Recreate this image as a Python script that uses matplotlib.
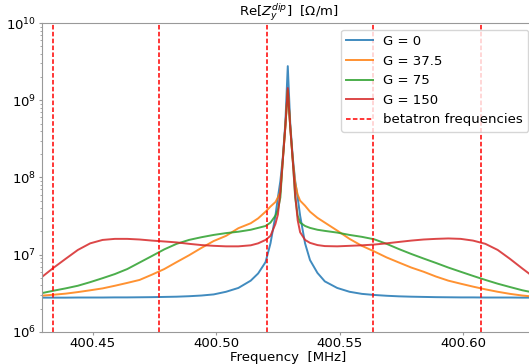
import matplotlib
matplotlib.use("Agg")
import matplotlib.pyplot as plt

# frequency grid [MHz], denser around the resonance
freq = [400.429, 400.434, 400.439, 400.444, 400.449, 400.454, 400.459, 400.464,
        400.469, 400.474, 400.479, 400.484, 400.489, 400.494, 400.499, 400.504,
        400.509, 400.514, 400.517, 400.520, 400.522, 400.524, 400.525, 400.526,
        400.527, 400.528, 400.529, 400.530, 400.531, 400.532, 400.533, 400.534,
        400.536, 400.538, 400.541, 400.544, 400.549, 400.554, 400.559, 400.564,
        400.569, 400.574, 400.579, 400.584, 400.589, 400.594, 400.599, 400.604,
        400.609, 400.614, 400.619, 400.624, 400.629]

z_g0 = [2.77e6, 2.77e6, 2.77e6, 2.78e6, 2.78e6, 2.78e6, 2.79e6, 2.79e6, 2.80e6,
        2.81e6, 2.83e6, 2.85e6, 2.89e6, 2.95e6, 3.05e6, 3.3e6, 3.7e6, 4.6e6,
        5.7e6, 8.0e6, 1.4e7, 3.2e7, 5.5e7, 9.0e7, 1.85e8, 5.0e8, 2.77e9,
        5.0e8, 1.85e8, 9.0e7, 5.5e7, 3.2e7, 1.4e7, 8.5e6, 5.8e6, 4.5e6, 3.7e6,
        3.3e6, 3.1e6, 3.0e6, 2.93e6, 2.88e6, 2.85e6, 2.83e6, 2.81e6, 2.80e6,
        2.79e6, 2.79e6, 2.78e6, 2.78e6, 2.78e6, 2.77e6, 2.77e6]

z_g37 = [2.93e6, 3.02e6, 3.12e6, 3.27e6, 3.45e6, 3.65e6, 3.95e6, 4.3e6, 4.7e6,
         5.5e6, 6.5e6, 8.0e6, 9.8e6, 1.22e7, 1.5e7, 1.75e7, 2.2e7, 2.55e7,
         2.95e7, 3.6e7, 4.2e7, 4.8e7, 5.5e7, 6.5e7, 1.7e8, 4.5e8, 1.35e9,
         4.5e8, 1.7e8, 8.5e7, 6.0e7, 5.0e7, 4.3e7, 3.6e7, 3.0e7, 2.6e7, 2.05e7,
         1.6e7, 1.3e7, 1.1e7, 9.2e6, 7.9e6, 6.8e6, 6.0e6, 5.2e6, 4.6e6,
         4.2e6, 3.85e6, 3.55e6, 3.3e6, 3.1e6, 2.95e6, 2.85e6]

z_g75 = [3.15e6, 3.4e6, 3.65e6, 3.95e6, 4.4e6, 4.95e6, 5.6e6, 6.5e6, 7.9e6,
         9.6e6, 1.17e7, 1.38e7, 1.55e7, 1.68e7, 1.8e7, 1.9e7, 1.98e7, 2.1e7,
         2.22e7, 2.35e7, 2.6e7, 3.2e7, 3.8e7, 5.5e7, 1.7e8, 4.5e8, 1.35e9,
         4.5e8, 1.7e8, 5.5e7, 3.2e7, 2.6e7, 2.35e7, 2.22e7, 2.1e7, 2.03e7, 1.93e7,
         1.8e7, 1.7e7, 1.58e7, 1.38e7, 1.18e7, 1.02e7, 8.9e6, 7.8e6, 6.8e6,
         6.0e6, 5.3e6, 4.7e6, 4.2e6, 3.8e6, 3.45e6, 3.2e6]

z_g150 = [5.0e6, 6.7e6, 8.8e6, 1.15e7, 1.4e7, 1.55e7, 1.6e7, 1.6e7, 1.57e7,
          1.52e7, 1.48e7, 1.44e7, 1.38e7, 1.33e7, 1.3e7, 1.28e7, 1.28e7, 1.32e7,
          1.4e7, 1.55e7, 1.75e7, 2.5e7, 3.3e7, 6.5e7, 1.7e8, 4.5e8, 1.44e9,
          4.5e8, 1.7e8, 6.0e7, 2.8e7, 1.95e7, 1.55e7, 1.42e7, 1.33e7, 1.29e7, 1.28e7,
          1.3e7, 1.32e7, 1.35e7, 1.4e7, 1.46e7, 1.52e7, 1.57e7, 1.6e7, 1.62e7,
          1.6e7, 1.52e7, 1.38e7, 1.15e7, 8.8e6, 6.6e6, 5.0e6]

labels = ["G = 0", "G = 37.5", "G = 75", "G = 150"]
betatron = [400.4338, 400.4770, 400.5204, 400.5636, 400.6071]

plt.rcParams["font.size"] = 9.5

fig = plt.figure(figsize=(5.29, 3.64), dpi=100)
ax = fig.add_axes([0.0788, 0.0885, 0.9325, 0.848])

for z, lab in zip([z_g0, z_g37, z_g75, z_g150], labels):
    ax.plot(freq, z, label=lab, lw=1.4, alpha=0.85)

for i, fb in enumerate(betatron):
    ax.axvline(fb, color="#ff0000", ls=(0, (3, 1.5)), lw=1.1,
               label="betatron frequencies" if i == 0 else None)

ax.set_yscale("log")
ax.set_ylim(1e6, 1e10)
ax.set_xlim(400.42935, 400.6291)
ax.set_xticks([400.45, 400.50, 400.55, 400.60])
ax.set_xticklabels(["400.45", "400.50", "400.55", "400.60"])

for s in ax.spines.values():
    s.set_color("0.6")
ax.tick_params(which="major", color="0.6", length=2.5, pad=1.5)
ax.tick_params(which="minor", color="0.6", length=1.5)

ax.set_title("Re[$Z_y^{dip}$]  [Ω/m]", fontsize=9.5, pad=3)
ax.set_xlabel("Frequency  [MHz]", labelpad=0.5)
ax.legend(loc="upper right", fontsize=9.5)

fig.savefig("out.png", dpi=100)
